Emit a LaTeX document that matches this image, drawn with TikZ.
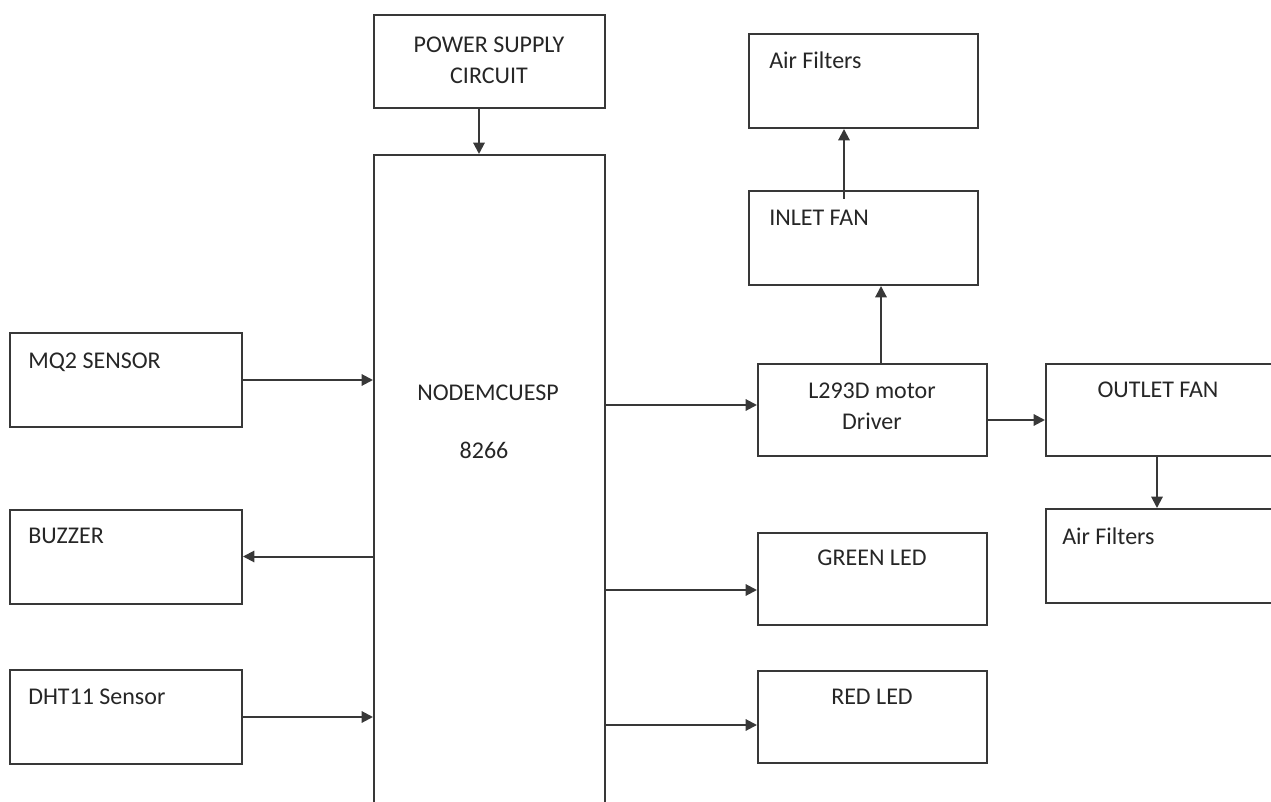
\documentclass[tikz,border=0pt]{standalone}
\usepackage{fontspec}
\setmainfont{Carlito}
\usetikzlibrary{arrows.meta,positioning}
\definecolor{linegray}{HTML}{383838}
\definecolor{textgray}{HTML}{262626}

\begin{document}
\begin{tikzpicture}[x=0.75pt, y=-0.75pt,
    block/.style={rectangle, draw=linegray, line width=1.5pt, minimum width=174pt, minimum height=70.5pt, inner sep=0pt},
    outbox/.style={block, minimum width=171.75pt, minimum height=69pt},
    label_txt/.style={text=textgray, font=\fontsize{18}{23}\selectfont, inner sep=0pt, align=center},
    arr/.style={-{Triangle[length=8.5pt,width=8.5pt]}, draw=linegray, line width=1.5pt}
  ]
  \useasboundingbox (0,0) rectangle (1271,802);
  \clip (0,0) rectangle (1271,802);

  % controller and supply
  \node[block, minimum width=173.25pt, minimum height=69.75pt] (psu) at (489.5,61.5) {};
  \node[block, minimum width=173.25pt, minimum height=521.25pt] (mcu) at (489.5,502.5) {};
  \node[label_txt] (psutxt) at (489,60) {POWER SUPPLY\\CIRCUIT};
  \node[label_txt] (mcutxt) at (488,393) {NODEMCUESP};
  \node[label_txt] (mcunum) at (484,450) {8266};

  % inputs and buzzer
  \node[block] (mq2) at (126,380) {};
  \node[block] (buzzer) at (126,556.5) {};
  \node[block] (dht) at (126,717) {};
  \node[label_txt, anchor=west] (mq2txt) at (28,362) {MQ2 SENSOR};
  \node[label_txt, anchor=west] (buzzertxt) at (28,536) {BUZZER};
  \node[label_txt, anchor=west] (dhttxt) at (28,697) {DHT11 Sensor};

  % driver side
  \node[block, minimum width=171.75pt] (airtop) at (863.5,81) {};
  \node[block, minimum width=171.75pt] (inlet) at (863.5,238) {};
  \node[outbox] (driver) at (872.5,410) {};
  \node[outbox] (green) at (872.5,579) {};
  \node[outbox] (red) at (872.5,716.5) {};
  \node[block, minimum width=175.5pt, minimum height=69pt] (outlet) at (1163,410) {};
  \node[block, minimum width=175.5pt] (airright) at (1163,556) {};
  \node[label_txt, anchor=west] (airtoptxt) at (769,60) {Air Filters};
  \node[label_txt, anchor=west] (inlettxt) at (769,218) {INLET FAN};
  \node[label_txt] (drivertxt) at (872,406) {L293D motor\\Driver};
  \node[label_txt] (greentxt) at (872,558) {GREEN LED};
  \node[label_txt] (redtxt) at (872,697) {RED LED};
  \node[label_txt] (outlettxt) at (1158,390) {OUTLET FAN};
  \node[label_txt, anchor=west] (airrighttxt) at (1062,536) {Air Filters};

  % connections
  \draw[arr] (psu.south -| 479,0) -- (mcu.north -| 479,0);
  \draw[arr] (mq2.east) -- (mq2.east -| mcu.west);
  \draw[arr] (mcu.west |- buzzer.east) -- (buzzer.east);
  \draw[arr] (dht.east) -- (dht.east -| mcu.west);
  \draw[arr] (mcu.east |- 0,405) -- (driver.west |- 0,405);
  \draw[arr] (mcu.east |- 0,590) -- (green.west |- 0,590);
  \draw[arr] (mcu.east |- 0,725) -- (red.west |- 0,725);
  \draw[arr] (driver.north -| 881,0) -- (inlet.south -| 881,0);
  \draw[arr] (inlet.north -| 844,0) ++(0,9) -- (airtop.south -| 844,0);
  \draw[arr] (driver.east |- 0,420) -- (outlet.west |- 0,420);
  \draw[arr] (outlet.south -| 1157,0) -- (airright.north -| 1157,0);
\end{tikzpicture}
\end{document}
